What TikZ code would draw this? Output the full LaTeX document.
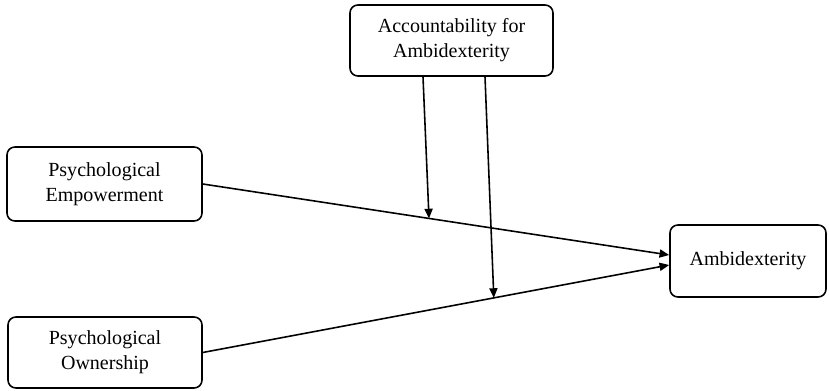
\documentclass[tikz,border=0pt]{standalone}
\usepackage{fontspec}
\setmainfont{Liberation Serif}
\usetikzlibrary{arrows.meta,calc}

\tikzset{
  varbox/.style={draw, line width=0.9pt, rounded corners=4.5pt, align=center,
    inner sep=0pt, font=\fontsize{11.4}{14.2}\selectfont},
  effect/.style={line width=0.9pt, -{Triangle[length=5.5pt,width=4.6pt]}}
}

\begin{document}
\begin{tikzpicture}[x=0.02cm,y=-0.02cm]
    \useasboundingbox (0,0) rectangle (829,391);

    \node[varbox, minimum width=203*0.02cm, minimum height=71*0.02cm] (acc) at (451.5,40.5) {Accountability for\\Ambidexterity};
    \node[varbox, minimum width=195*0.02cm, minimum height=74*0.02cm] (emp) at (104.5,184) {Psychological\\Empowerment};
    \node[varbox, minimum width=194*0.02cm, minimum height=71*0.02cm] (own) at (105,352.5) {Psychological\\Ownership};
    \node[varbox, minimum width=156*0.02cm, minimum height=72*0.02cm] (amb) at (748,261) {Ambidexterity};

    % main effects
    \coordinate (amb1) at ($(amb.west)+(0,-6)$);
    \coordinate (amb2) at ($(amb.west)+(0,4)$);
    \draw[effect] (emp.east) -- (amb1);
    \draw[effect] (own.east) -- (amb2);

    % moderation
    \coordinate (m1) at ($(emp.east)!0.485!(amb1)$);
    \coordinate (m2) at ($(own.east)!0.624!(amb2)$);
    \draw[effect] ($(acc.south)+(-28.5,0)$) -- (m1);
    \draw[effect] ($(acc.south)+(33.5,0)$) -- (m2);
\end{tikzpicture}
\end{document}
